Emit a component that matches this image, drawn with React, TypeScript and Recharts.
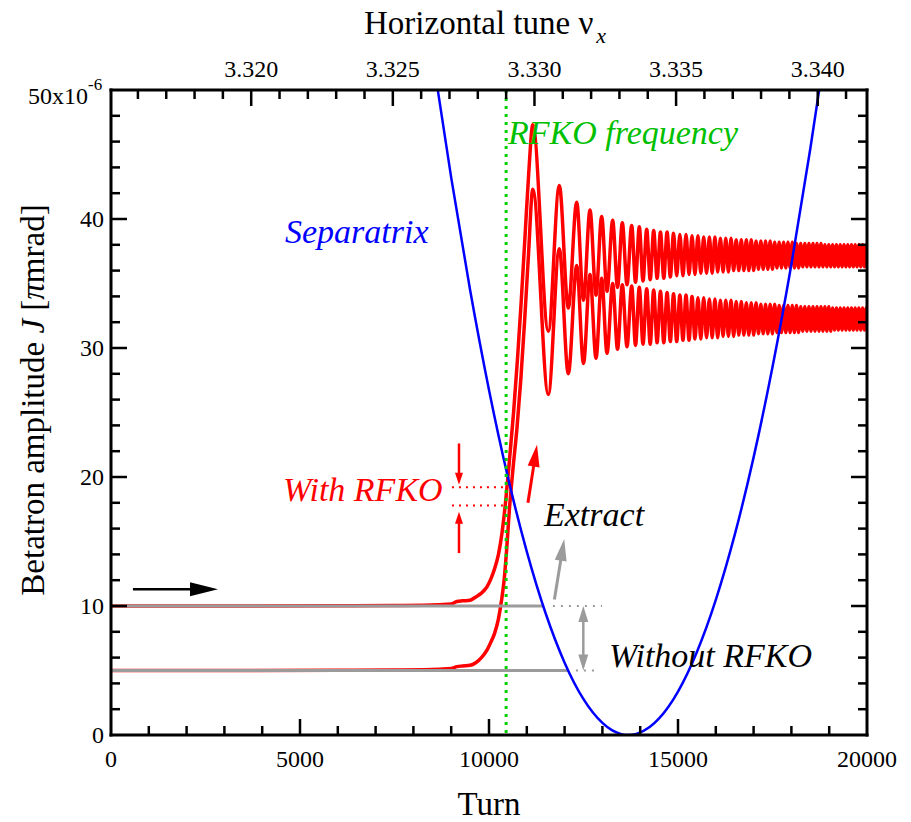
import React from "react";
import { LineChart, Line, XAxis, YAxis, ReferenceLine } from "recharts";

const SERIF = "'Liberation Serif', 'Times New Roman', serif";
const RED = "#ff0000";
const BLUE = "#0000ff";
const GREEN = "#00d000";
const GRAY = "#9b9b9b";

// axis ticks
const turnTicks = [
  0, 1000, 2000, 3000, 4000, 5000, 6000, 7000, 8000, 9000, 10000, 11000, 12000,
  13000, 14000, 15000, 16000, 17000, 18000, 19000, 20000,
];
const jTicks = [
  0, 2, 4, 6, 8, 10, 12, 14, 16, 18, 20, 22, 24, 26, 28, 30, 32, 34, 36, 38, 40,
  42, 44, 46, 48, 50,
];
const tuneTicks = [
  3.316, 3.317, 3.318, 3.319, 3.32, 3.321, 3.322, 3.323, 3.324, 3.325, 3.326,
  3.327, 3.328, 3.329, 3.33, 3.331, 3.332, 3.333, 3.334, 3.335, 3.336, 3.337,
  3.338, 3.339, 3.34, 3.341,
];
const tuneRange = [3.31505, 3.34174];

// RF knockout drive frequency
const rfkoTune = 3.329;

// separatrix amplitude vs turn
const sepTurn = [
  8640, 9000, 9500, 10000, 10500, 11000, 11500, 12000, 12500, 13000, 13250,
  13500, 13690, 13900, 14250, 14500, 15000, 15500, 16000, 16500, 17000, 17500,
  18000, 18500, 18740,
];
const sepJ = [
  50.1, 43.21, 34.49, 26.75, 19.99, 14.22, 9.42, 5.61, 2.78, 0.94, 0.38, 0.07,
  0, 0.09, 0.62, 1.29, 3.37, 6.44, 10.48, 15.51, 21.52, 28.52, 36.49, 45.45,
  50.1,
];

// with RFKO: growth before capture (particle starting at J=10)
const growTurnA = [
  0, 3000, 6000, 7500, 8300, 8700, 9000, 9150, 9300, 9500, 9650, 9800, 9950,
  10050, 10150, 10250, 10350, 10450, 10550, 10650, 10750, 10850, 10950, 11050,
];
const growJA = [
  10.0, 10.0, 10.02, 10.04, 10.06, 10.1, 10.15, 10.35, 10.4, 10.45, 10.7, 11.0,
  11.5, 12.1, 12.9, 14.0, 15.8, 18.4, 21.6, 25.0, 29.0, 33.5, 38.5, 43.5,
];
// particle starting at J=5
const growTurnB = [
  0, 3000, 6000, 7500, 8300, 8700, 9000, 9150, 9300, 9500, 9650, 9800, 9950,
  10050, 10150, 10250, 10330, 10400, 10470, 10540, 10640, 10740, 10840, 10940,
  11040,
];
const growJB = [
  5.0, 5.0, 5.02, 5.04, 5.06, 5.1, 5.15, 5.3, 5.35, 5.4, 5.6, 6.0, 6.6, 7.2,
  7.9, 9.0, 10.4, 12.0, 14.5, 17.5, 20.8, 23.8, 27.5, 32.0, 37.0,
];

// with RFKO: turns of successive peaks / troughs after capture
const oscTurn = [
  11159, 11569, 11860, 12098, 12320, 12500, 12672, 12831, 12981, 13122, 13272,
  13400, 13527, 13651, 13775, 13876, 13976, 14074, 14172, 14265, 14357, 14447,
  14536, 14624, 14711, 14797, 14882, 14966, 15049, 15131, 15212, 15292, 15371,
  15449, 15527, 15604, 15680, 15755, 15830, 15904, 15977, 16050, 16122, 16193,
  16264, 16334, 16403, 16472, 16540, 16608, 16675, 16742, 16808, 16873, 16938,
  17002, 17066, 17129, 17192, 17254, 17316, 17377, 17438, 17498, 17558, 17618,
  17677, 17736, 17794, 17852, 17909, 17966, 18023, 18079, 18135, 18191, 18246,
  18301, 18356, 18410, 18464, 18518, 18571, 18624, 18677, 18730, 18782, 18834,
  18886, 18938, 18989, 19040, 19091, 19142, 19192, 19242, 19292, 19342, 19392,
  19442, 19491, 19540, 19589, 19638, 19687, 19736, 19785, 19834, 19883, 19932,
  19981, 20030,
];
const oscJA = [
  47.3, 31.3, 42.6, 33.1, 41.3, 33.7, 40.7, 34.1, 40.2, 34.4, 39.9, 34.7, 39.7,
  34.9, 39.5, 35.1, 39.4, 35.2, 39.2, 35.3, 39.1, 35.4, 39.0, 35.4, 39.0, 35.5,
  38.9, 35.6, 38.8, 35.6, 38.8, 35.7, 38.7, 35.7, 38.7, 35.8, 38.6, 35.8, 38.6,
  35.8, 38.6, 35.9, 38.5, 35.9, 38.5, 35.9, 38.5, 36.0, 38.4, 36.0, 38.4, 36.0,
  38.4, 36.0, 38.4, 36.0, 38.3, 36.1, 38.3, 36.1, 38.3, 36.1, 38.3, 36.1, 38.2,
  36.2, 38.2, 36.2, 38.2, 36.2, 38.2, 36.2, 38.2, 36.2, 38.1, 36.2, 38.1, 36.3,
  38.1, 36.3, 38.1, 36.3, 38.1, 36.3, 38.1, 36.3, 38.1, 36.3, 38.0, 36.3, 38.0,
  36.3, 38.0, 36.3, 38.0, 36.3, 38.0, 36.3, 38.0, 36.3, 38.0, 36.3, 38.0, 36.3,
  38.0, 36.3, 38.0, 36.3, 38.0, 36.3, 38.0, 36.3, 38.0, 36.3,
];
const oscJB = [
  42.3, 26.4, 37.7, 28.0, 36.4, 28.8, 35.7, 29.2, 35.4, 29.6, 35.0, 29.9, 34.9,
  30.1, 34.8, 30.2, 34.7, 30.3, 34.6, 30.3, 34.5, 30.4, 34.4, 30.4, 34.3, 30.5,
  34.2, 30.5, 34.1, 30.6, 34.1, 30.6, 34.0, 30.7, 33.9, 30.7, 33.9, 30.8, 33.8,
  30.8, 33.8, 30.8, 33.7, 30.9, 33.7, 30.9, 33.7, 30.9, 33.6, 31.0, 33.6, 31.0,
  33.5, 31.0, 33.5, 31.0, 33.5, 31.1, 33.4, 31.1, 33.4, 31.1, 33.4, 31.1, 33.4,
  31.2, 33.3, 31.2, 33.3, 31.2, 33.3, 31.2, 33.3, 31.2, 33.3, 31.2, 33.2, 31.3,
  33.2, 31.3, 33.2, 31.3, 33.2, 31.3, 33.2, 31.3, 33.2, 31.3, 33.2, 31.3, 33.2,
  31.3, 33.1, 31.4, 33.1, 31.4, 33.1, 31.4, 33.1, 31.4, 33.1, 31.4, 33.1, 31.4,
  33.1, 31.4, 33.1, 31.4, 33.1, 31.4, 33.1, 31.4, 33.1, 31.4,
];

// without RFKO: amplitude stays put until the separatrix reaches it
const freeJ = [10, 5];
const freeEndTurn = [11430, 12095];

type Row = { turn: number; J: number };
const zip = (t: number[], j: number[]): Row[] =>
  t.map((turn, i) => ({ turn, J: j[i] }));

const sepRows = zip(sepTurn, sepJ);
const rfkoRowsA = [...zip(growTurnA, growJA), ...zip(oscTurn, oscJA)];
const rfkoRowsB = [...zip(growTurnB, growJB), ...zip(oscTurn, oscJB)];
const freeRows = freeJ.map((J, i) => [
  { turn: 0, J },
  { turn: freeEndTurn[i], J },
]);

const axisLine = { stroke: "#000", strokeWidth: 3, strokeLinecap: "square" as const };

const TurnTick = ({ x, y, payload }: any) => {
  const v = payload.value as number;
  const major = v % 5000 === 0;
  return (
    <g>
      {v > 0 && v < 20000 && (
        <line x1={x} x2={x} y1={y} y2={y - (major ? 16 : 9)} stroke="#000" strokeWidth={2.5} />
      )}
      {major && (
        <text x={x} y={y + 32} textAnchor="middle" fontFamily={SERIF} fontSize={24} fill="#000">
          {v}
        </text>
      )}
    </g>
  );
};

const TuneTick = ({ x, y, payload }: any) => {
  const v = payload.value as number;
  const major = Math.round(v * 1000) % 5 === 0;
  return (
    <g>
      <line x1={x} x2={x} y1={y} y2={y + (major ? 16 : 9)} stroke="#000" strokeWidth={2.5} />
      {major && (
        <text x={x} y={y - 13} textAnchor="middle" fontFamily={SERIF} fontSize={24} fill="#000">
          {v.toFixed(3)}
        </text>
      )}
    </g>
  );
};

const JTick = ({ x, y, payload, side }: any) => {
  const v = payload.value as number;
  const major = v % 10 === 0;
  const dir = side === "left" ? 1 : -1;
  return (
    <g>
      {v > 0 && v < 50 && (
        <line x1={x} x2={x + dir * (major ? 16 : 9)} y1={y} y2={y} stroke="#000" strokeWidth={2.5} />
      )}
      {side === "left" && major && v < 50 && (
        <text x={x - 7} y={y + 8} textAnchor="end" fontFamily={SERIF} fontSize={24} fill="#000">
          {v}
        </text>
      )}
      {side === "left" && v === 50 && (
        <text x={28} y={y + 14} fontFamily={SERIF} fontSize={24} fill="#000">
          50x10
          <tspan fontSize={17} dy={-14}>
            -6
          </tspan>
        </text>
      )}
    </g>
  );
};

// straight segment with a filled head at the end (or at both ends)
const arrow =
  (color: string, width: number, headLen: number, headHalf: number, both = false) =>
  (p: any) => {
    const { x1, y1, x2, y2 } = p;
    const len = Math.hypot(x2 - x1, y2 - y1) || 1;
    const ux = (x2 - x1) / len;
    const uy = (y2 - y1) / len;
    const head = (tx: number, ty: number, sx: number, sy: number) => {
      const bx = tx - sx * headLen;
      const by = ty - sy * headLen;
      return `${tx},${ty} ${bx - sy * headHalf},${by + sx * headHalf} ${bx + sy * headHalf},${by - sx * headHalf}`;
    };
    const sx = both ? x1 + ux * headLen : x1;
    const sy = both ? y1 + uy * headLen : y1;
    return (
      <g>
        <line x1={sx} y1={sy} x2={x2 - ux * headLen * 0.8} y2={y2 - uy * headLen * 0.8} stroke={color} strokeWidth={width} />
        <polygon points={head(x2, y2, ux, uy)} fill={color} />
        {both && <polygon points={head(x1, y1, -ux, -uy)} fill={color} />}
      </g>
    );
  };

const seg = (a: [number, number], b: [number, number]) => [
  { x: a[0], y: a[1] },
  { x: b[0], y: b[1] },
];

export default function App() {
  const ids = { xAxisId: "turn", yAxisId: "J" };
  return (
    <div style={{ position: "relative", width: 911, height: 822 }}>
      <style>{"body{margin:0}"}</style>
      <LineChart width={911} height={822} margin={{ top: 0, right: 0, bottom: 0, left: 0 }}>
        <XAxis
          xAxisId="turn"
          type="number"
          dataKey="turn"
          domain={[0, 20000]}
          allowDataOverflow
          ticks={turnTicks}
          interval={0}
          tickSize={0}
          tickMargin={0}
          tickLine={false}
          tick={<TurnTick />}
          height={87}
          axisLine={axisLine}
        />
        <XAxis
          xAxisId="tune"
          orientation="top"
          type="number"
          dataKey="tune"
          domain={tuneRange}
          allowDataOverflow
          ticks={tuneTicks}
          interval={0}
          tickSize={0}
          tickMargin={0}
          tickLine={false}
          tick={<TuneTick />}
          height={90}
          axisLine={axisLine}
        />
        <YAxis
          yAxisId="J"
          type="number"
          domain={[0, 50]}
          allowDataOverflow
          ticks={jTicks}
          interval={0}
          tickSize={0}
          tickMargin={0}
          tickLine={false}
          tick={<JTick side="left" />}
          width={111}
          axisLine={axisLine}
        />
        <YAxis
          yAxisId="Jr"
          orientation="right"
          type="number"
          domain={[0, 50]}
          allowDataOverflow
          ticks={jTicks}
          interval={0}
          tickSize={0}
          tickMargin={0}
          tickLine={false}
          tick={<JTick side="right" />}
          width={44}
          axisLine={axisLine}
        />

        <Line {...ids} data={rfkoRowsA} dataKey="J" type="monotone" stroke={RED} strokeWidth={3.5} dot={false} isAnimationActive={false} />
        <Line {...ids} data={rfkoRowsB} dataKey="J" type="monotone" stroke={RED} strokeWidth={3.5} dot={false} isAnimationActive={false} />
        {freeRows.map((rows, i) => (
          <Line key={i} {...ids} data={rows} dataKey="J" type="linear" stroke={GRAY} strokeWidth={3} dot={false} isAnimationActive={false} />
        ))}
        <Line xAxisId="turn" yAxisId="Jr" data={sepRows} dataKey="J" type="monotone" stroke={BLUE} strokeWidth={2.5} dot={false} isAnimationActive={false} />

        <ReferenceLine xAxisId="tune" yAxisId="J" x={rfkoTune} stroke={GREEN} strokeWidth={3} strokeDasharray="3 5" />

        {/* dotted guides */}
        <ReferenceLine {...ids} segment={seg([9020, 19.2], [10480, 19.2])} stroke={RED} strokeWidth={2} strokeDasharray="2 5" ifOverflow="visible" />
        <ReferenceLine {...ids} segment={seg([9020, 17.8], [10480, 17.8])} stroke={RED} strokeWidth={2} strokeDasharray="2 5" ifOverflow="visible" />
        <ReferenceLine {...ids} segment={seg([11690, 10], [12990, 10])} stroke={GRAY} strokeWidth={2} strokeDasharray="2 6" ifOverflow="visible" />
        <ReferenceLine {...ids} segment={seg([12300, 5], [12900, 5])} stroke={GRAY} strokeWidth={2} strokeDasharray="2 6" ifOverflow="visible" />

        {/* arrows */}
        <ReferenceLine {...ids} segment={seg([580, 11.3], [2830, 11.3])} shape={arrow("#000", 2.5, 28, 7)} ifOverflow="visible" />
        <ReferenceLine {...ids} segment={seg([9206, 22.6], [9206, 19.4])} shape={arrow(RED, 2.5, 12, 4)} ifOverflow="visible" />
        <ReferenceLine {...ids} segment={seg([9206, 14.1], [9206, 17.3])} shape={arrow(RED, 2.5, 12, 4)} ifOverflow="visible" />
        <ReferenceLine {...ids} segment={seg([11030, 18.0], [11270, 22.5])} shape={arrow(RED, 3, 22, 6)} ifOverflow="visible" />
        <ReferenceLine {...ids} segment={seg([11730, 10.5], [11990, 15.2])} shape={arrow(GRAY, 3, 22, 6)} ifOverflow="visible" />
        <ReferenceLine {...ids} segment={seg([12495, 10.0], [12495, 5.0])} shape={arrow(GRAY, 2.5, 16, 5, true)} ifOverflow="visible" />
      </LineChart>

      <svg
        width={911}
        height={822}
        style={{ position: "absolute", left: 0, top: 0, pointerEvents: "none" }}
        fontFamily={SERIF}
      >
        <text x={364} y={34} fontSize={33} fill="#000">
          Horizontal tune ν
          <tspan fontStyle="italic" fontSize={22} dx={3} dy={9}>
            x
          </tspan>
        </text>
        <text x={489} y={815} fontSize={33} textAnchor="middle" fill="#000">
          Turn
        </text>
        <text transform="translate(44,400) rotate(-90)" fontSize={33} textAnchor="middle" fill="#000">
          Betatron amplitude <tspan fontStyle="italic">J</tspan> [<tspan fontStyle="italic">π</tspan>mrad]
        </text>
        <g fontStyle="italic" fontSize={34}>
          <text x={508} y={144} fill="#00c000">RFKO frequency</text>
          <text x={285} y={243} fill={BLUE}>Separatrix</text>
          <text x={283} y={501} fill={RED}>With RFKO</text>
          <text x={544} y={526} fill="#000">Extract</text>
          <text x={609} y={667} fill="#000">Without RFKO</text>
        </g>
      </svg>
    </div>
  );
}
